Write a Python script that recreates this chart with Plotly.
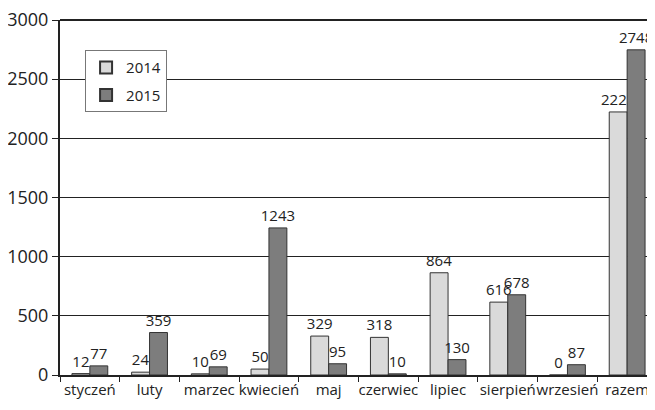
import plotly.graph_objects as go

months = ["styczeń", "luty", "marzec", "kwiecień", "maj", "czerwiec", "lipiec", "sierpień", "wrzesień", "razem"]
v2014 = [12, 24, 10, 50, 329, 318, 864, 616, 0, 2223]
v2015 = [77, 359, 69, 1243, 95, 10, 130, 678, 87, 2748]
y_ticks = [0, 500, 1000, 1500, 2000, 2500, 3000]

fig = go.Figure()
fig.add_trace(go.Bar(x=months, y=v2014, name="2014", legendgroup="a",
                     marker=dict(color="#dadada", line=dict(color="#333333", width=1)),
                     text=[str(v) for v in v2014], textposition="outside", cliponaxis=False,
                     constraintext="none", textfont=dict(size=15, color="#222222")))
fig.add_trace(go.Bar(x=months, y=v2015, name="2015", legendgroup="b",
                     marker=dict(color="#7d7d7d", line=dict(color="#333333", width=1)),
                     text=[str(v) for v in v2015], textposition="outside", cliponaxis=False,
                     constraintext="none", textfont=dict(size=15, color="#222222")))

fig.update_layout(
    width=655, height=410,
    margin=dict(l=52, r=6, t=12, b=43, autoexpand=False),
    paper_bgcolor="white", plot_bgcolor="white",
    font=dict(family="Open Sans, Noto Sans, sans-serif", color="#222222", size=14),
    barmode="group", bargap=0.4, bargroupgap=0.0,
    showlegend=True,
    legend=dict(x=0.042, y=0.915, xanchor="left", yanchor="top", bordercolor="#777777", borderwidth=1,
                bgcolor="white", font=dict(size=15), itemsizing="constant", tracegroupgap=5),
)
fig.update_xaxes(showline=True, linecolor="#222222", linewidth=2, ticks="outside", tickson="boundaries",
                 ticklen=5, tickcolor="#222222", tickfont=dict(size=15), tickangle=0, automargin=False,
                 showgrid=False, ticklabeloverflow="allow")
fig.update_yaxes(range=[0, 3000], tickvals=y_ticks, showgrid=True, gridcolor="#222222", gridwidth=1,
                 showline=True, linecolor="#222222", linewidth=2, ticks="outside", ticklen=6,
                 tickcolor="#222222", tickfont=dict(size=18), zeroline=False, automargin=False,
                 ticklabeloverflow="allow")
fig.add_shape(type="line", xref="paper", yref="paper", x0=0, x1=1, y0=1, y1=1,
              line=dict(color="#222222", width=2))

fig.write_html("out.html")
